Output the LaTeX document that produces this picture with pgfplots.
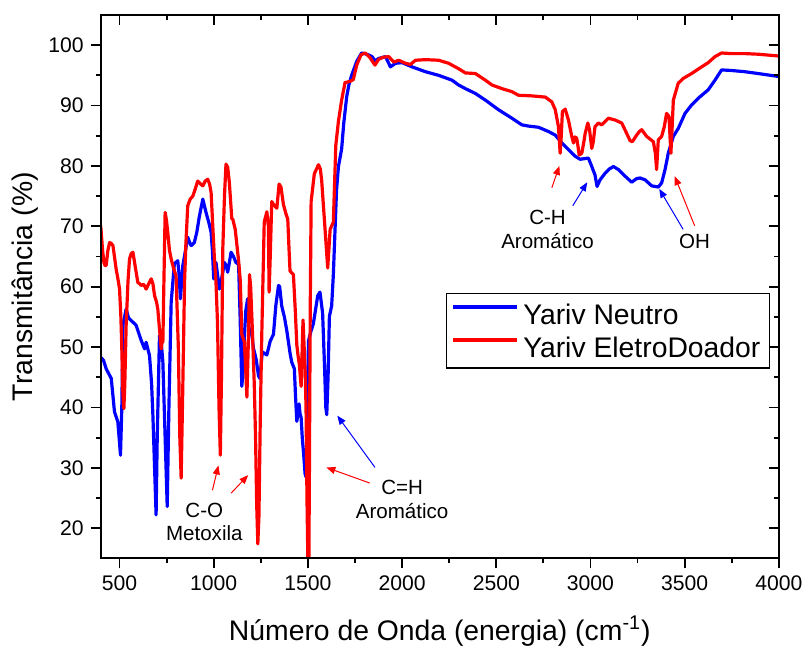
\documentclass[border=0pt]{standalone}
\usepackage{fontspec}
\setmainfont{Liberation Sans}
\usepackage{pgfplots}
\pgfplotsset{compat=1.18}
\usetikzlibrary{arrows.meta}
\definecolor{cblue}{RGB}{0,0,255}
\definecolor{cred}{RGB}{255,0,0}
\begin{document}
\begin{tikzpicture}
\pgfplotsset{
  common/.style={
    width=340pt, height=272.5pt, scale only axis,
    at={(0,0)}, anchor=south west,
    xmin=400, xmax=4000, ymin=15, ymax=105,
    xtick={500,1000,...,4000}, ytick={20,30,...,100},
    minor x tick num=1, minor y tick num=1,
    major tick length=5pt, minor tick length=2.5pt,
    axis line style={line width=1pt},
    every tick/.style={black, line width=0.9pt},
  }
}
\begin{axis}[common, tick align=outside, xtick pos=left, ytick pos=left,
  ticklabel style={font=\fontsize{10.6}{12}\selectfont},
  /pgf/number format/assume math mode=true,
  /pgf/number format/1000 sep={},
  xlabel={Número de Onda (energia) (cm\textsuperscript{-1})},
  ylabel={Transmitância (\%)},
  label style={font=\fontsize{14.2}{16}\selectfont},
  xlabel style={at={(axis description cs:0.5,-0.134)}, anchor=center},
  ylabel style={at={(axis description cs:-0.111,0.5)}, anchor=center},
  legend cell align=left,
  legend style={at={(rel axis cs:0.509,0.488)}, anchor=north west, draw=black, line width=0.6pt,
    font=\fontsize{14.2}{16}\selectfont, inner xsep=2.5pt, inner ysep=3.6pt, row sep=3pt,
    nodes={inner ysep=0pt, text height=12pt, text depth=1.5pt}},
  legend image code/.code={\draw[#1, line width=2pt] (0pt,3.5pt) -- (32pt,3.5pt);},
]
\addplot[cblue, line width=1.6pt, line join=round] coordinates {
(400,48.3) (415,47.8) (429,46.4) (456,44.8) (473,39.3) (491,37.6) (505,32.1) (512,40) (518,53.6) (535,56.3)
(548,54.8) (562,54.4) (588,53.6) (615,51.1) (633,49.7) (641,50.8) (659,48.6) (670,44) (677,38.7) (688,28)
(694,22.2) (700,35) (712,51.9) (722,50.5) (730,47.5) (742,35) (753,23.6) (762,40) (774,57.4) (791,63.8)
(809,64.3) (816,62) (823,58.0) (830,61) (836,63.5) (850,66) (862,68.2) (870,67.5) (880,66.8) (897,67.3)
(910,69) (924,71.7) (942,74.5) (959,72.3) (975,70.5) (986,69) (993,66) (1000,61.3) (1012,64.0) (1020,62)
(1030,59.6) (1040,61) (1057,64.0) (1066,63.5) (1074,62.4) (1083,64) (1092,65.7) (1105,65) (1118,64.0) (1132,63.7)
(1140,55) (1149,43.5) (1156,46) (1163,51.9) (1170,56) (1180,58.0) (1188,52.1) (1198,53.0) (1211,49.8) (1225,48)
(1238,45.2) (1245,44.8) (1258,49.2) (1282,48.7) (1300,51) (1317,52.1) (1330,57) (1344,60.2) (1350,60) (1361,56.8)
(1375,55) (1388,52.7) (1405,49) (1414,47.5) (1428,46.4) (1434,42) (1441,37.7) (1447,39) (1453,40.6) (1458,39)
(1464,38.3) (1470,35) (1478,32) (1485,29) (1490,28.5) (1495,35) (1503,51) (1515,52.5) (1529,53.9) (1552,58.5)
(1564,59.1) (1578,55.6) (1588,47) (1595,40) (1600,38.8) (1607,45) (1614,55.1) (1626,56.8) (1635,62) (1644,69.5)
(1652,76) (1662,79.9) (1679,82.8) (1690,87) (1706,91.5) (1718,93.5) (1732,95) (1759,97.3) (1785,98.7) (1800,98.6)
(1821,98.4) (1841,98.1) (1856,97.4) (1876,97.8) (1912,98.1) (1938,96.4) (1965,97) (2000,97.1) (2053,96.4) (2124,95.6)
(2194,95) (2265,94.2) (2300,93.4) (2336,92.8) (2389,92) (2442,90.9) (2512,89.3) (2583,87.9) (2636,86.8) (2671,86.6)
(2724,86.4) (2777,85.7) (2813,85.1) (2848,83.8) (2883,82.7) (2919,81.6) (2945,81.1) (2989,81.3) (3007,79.9) (3024,78.5)
(3035,76.6) (3051,77.7) (3078,78.8) (3100,79.5) (3122,79.9) (3148,79.4) (3184,78.3) (3219,77.3) (3245,77.9) (3263,78)
(3290,77.7) (3325,76.7) (3360,76.5) (3378,77.2) (3396,79.4) (3413,82.1) (3440,84.9) (3466,86.2) (3502,88.7) (3537,90.1)
(3572,91.2) (3625,92.6) (3661,94.2) (3696,95.9) (3749,95.8) (3820,95.6) (3890,95.3) (4000,94.8)
};
\addlegendentry{Yariv Neutro}
\addplot[cred, line width=1.6pt, line join=round] coordinates {
(400,70.1) (410,66) (417,64) (423,63.5) (429,63.5) (438,66) (447,67.3) (455,67.2) (465,66.8) (482,62.9)
(493,61) (500,59.6) (507,55) (512,49.7) (518,42) (523,39.8) (528,44) (535,53.6) (545,61) (553,64.6)
(562,65.5) (571,65.7) (585,63) (597,60.7) (606,60.5) (615,60.2) (628,60.4) (641,59.6) (655,60.5) (668,61.3)
(677,60.5) (686,58.5) (696,57.5) (703,56.3) (712,53) (721,49.7) (726,51) (730,50.8) (735,60) (742,72.3)
(749,71) (756,69) (765,66) (774,64.6) (787,63) (800,61.8) (812,50) (820,35) (827,28.3) (835,42)
(845,60.7) (852,67) (862,73.4) (875,74.5) (889,75) (900,76) (915,77.5) (930,77) (942,76.7) (955,77.5)
(968,77.8) (978,77) (986,75.6) (995,70) (1003,65) (1012,60.7) (1020,54) (1028,40) (1035,32.1) (1041,45)
(1048,66.2) (1057,75) (1065,80.3) (1074,79.8) (1083,77.2) (1096,71.2) (1101,71.2) (1114,69.5) (1132,64.3) (1141,61)
(1149,52.1) (1163,50.8) (1170,46) (1176,41.7) (1183,50) (1190,62) (1196,60) (1206,52.1) (1215,44) (1222,35)
(1228,24) (1234,17.4) (1240,22) (1247,38) (1255,52) (1268,70.7) (1282,72.4) (1290,70) (1294,59.1) (1300,65)
(1308,74.1) (1320,73.5) (1335,73) (1347,77) (1357,76.5) (1370,73.6) (1384,72) (1393,71.2) (1400,66) (1405,62.6)
(1423,62) (1433,56) (1441,50.4) (1448,48.5) (1455,47) (1460,45) (1464,43.5) (1469,49) (1474,54.5) (1480,50)
(1485,46.4) (1490,40) (1495,25) (1500,14) (1505,14) (1508,30) (1512,55) (1517,74.1) (1534,78.7) (1556,80.2)
(1566,79.5) (1573,77.6) (1591,69.5) (1605,63.1) (1618,69.5) (1635,70.7) (1648,83.4) (1662,87.4) (1679,90.9) (1697,93.8)
(1724,94) (1741,94.3) (1759,96.7) (1782,98.4) (1803,98.7) (1815,98.4) (1830,97.9) (1845,97.2) (1856,96.7) (1874,97.6)
(1885,97.8) (1900,98) (1929,98.1) (1956,97.2) (1982,97.5) (2018,97) (2044,96.8) (2071,97.5) (2124,97.6) (2194,97.5)
(2247,97) (2300,96.1) (2336,95.4) (2389,95.3) (2442,94.2) (2477,93.4) (2530,92.8) (2583,92.3) (2618,91.7) (2689,91.6)
(2760,91.4) (2795,90.6) (2813,89.3) (2830,86.5) (2839,82.1) (2845,85) (2851,89) (2866,89.4) (2883,87.6) (2900,85)
(2910,83.8) (2918,84.8) (2927,84.6) (2935,83) (2940,81.8) (2954,82.1) (2965,84) (2972,85.4) (2986,87.1) (2995,86)
(3007,82.9) (3015,84) (3024,86.5) (3042,87.1) (3060,86.8) (3069,87.1) (3095,87.9) (3131,87.6) (3166,87.1) (3192,85.4)
(3210,84.2) (3222,84) (3245,85.1) (3260,85.7) (3272,86) (3298,84.9) (3334,84) (3345,82) (3351,79.4) (3356,82)
(3360,84.3) (3378,84.9) (3392,86.5) (3404,88.7) (3417,88.2) (3422,85) (3427,82.1) (3433,86) (3440,90.9) (3466,93.7)
(3493,94.5) (3537,95.3) (3590,96.4) (3625,97.1) (3661,98.1) (3696,98.7) (3749,98.6) (3820,98.6) (3890,98.5) (4000,98.2)
};
\addlegendentry{Yariv EletroDoador}
% annotations
\node[font=\fontsize{10.3}{12}\selectfont, align=center] at (axis cs:950,21.05) {C-O\\Metoxila};
\node[font=\fontsize{10.3}{12}\selectfont, align=center] at (axis cs:2000,24.8) {C=H\\Aromático};
\node[font=\fontsize{10.3}{12}\selectfont, align=center] at (axis cs:2772,69.47) {C-H\\Aromático};
\node[font=\fontsize{10.3}{12}\selectfont] at (axis cs:3553,67.46) {OH};
\tikzset{arr/.style={line width=0.5pt, -{Triangle[length=4.5pt,width=3.5pt]}}}
\draw[arr, cred] (axis cs:993,26.3) -- (axis cs:1025,30.4);
\draw[arr, cred] (axis cs:1092,25.8) -- (axis cs:1183,28.8);
\draw[arr, cblue] (axis cs:1856,30.07) -- (axis cs:1656,38.65);
\draw[arr, cred] (axis cs:1828,27.48) -- (axis cs:1598,30.07);
\draw[arr, cred] (axis cs:2795,76.4) -- (axis cs:2835,80);
\draw[arr, cblue] (axis cs:2906,73.4) -- (axis cs:2983,77.3);
\draw[arr, cblue] (axis cs:3492,69.5) -- (axis cs:3365,76.2);
\draw[arr, cred] (axis cs:3553,70.1) -- (axis cs:3447,78.3);
\end{axis}
\begin{axis}[common, tick align=inside, xtick pos=right, ytick pos=right,
  xticklabels={}, yticklabels={}]
\end{axis}
\path ([shift={(-50.5pt,-45pt)}]current axis.south west) rectangle ([shift={(14pt,7.5pt)}]current axis.north east);
\end{tikzpicture}
\end{document}
